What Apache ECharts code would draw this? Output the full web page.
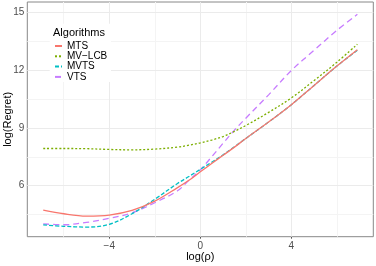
<!DOCTYPE html>
<html>
<head>
<meta charset="utf-8">
<script src="https://cdn.jsdelivr.net/npm/echarts@6/dist/echarts.min.js"></script>
<style>html,body{margin:0;padding:0;background:#fff}#c{width:376px;height:266px}</style>
</head>
<body>
<div id="c"></div>
<script>
const xs      = [-6.9, -6, -5, -4, -3, -2, -1, -0.5, 0, 0.5, 1, 1.5, 2, 3, 4, 5, 6, 6.9];
const mts     = [4.74, 4.55, 4.43, 4.48, 4.72, 5.2, 5.9, 6.28, 6.72, 7.15, 7.58, 8.0, 8.45, 9.3, 10.2, 11.2, 12.2, 13.05];
const mvlcb   = [7.93, 7.93, 7.92, 7.88, 7.86, 7.9, 8.0, 8.1, 8.22, 8.37, 8.55, 8.82, 9.12, 9.8, 10.55, 11.45, 12.4, 13.33];
const mvts    = [3.97, 3.9, 3.86, 4.0, 4.55, 5.3, 6.12, 6.48, 6.85, 7.22, 7.6, 8.02, 8.45, 9.3, 10.2, 11.2, 12.2, 13.02];
const vts     = [4.02, 3.98, 4.1, 4.31, 4.6, 5.12, 5.74, 6.28, 6.82, 7.5, 8.2, 8.88, 9.5, 10.71, 11.97, 13.02, 14.05, 14.88];
const xTicks  = [-4, 0, 4];
const xMinor  = [-6, -2, 2, 6];
const yTicks  = [6, 9, 12, 15];
const yMinor  = [4.5, 7.5, 10.5, 13.5];
const names   = ['MTS', 'MV\u2212LCB', 'MVTS', 'VTS'];
const colors  = ['#F8766D', '#7CAE00', '#00BFC4', '#C77CFF'];

const pair = arr => xs.map((x, i) => [x, arr[i]]);
const fmt = v => (v < 0 ? '\u2212' + Math.abs(v) : String(v));
const XMIN = -7.6, XMAX = 7.6, YMIN = 3.36, YMAX = 15.52;
const font = 'Liberation Sans, Arial, sans-serif';

const chart = echarts.init(document.getElementById('c'), null, {renderer: 'canvas'});
const styles = [
  {type: 'solid', w: 1.3},
  {type: [2, 2], w: 1.3},
  {type: [4, 2], w: 1.3},
  {type: [6, 4], w: 1.3}
];
const dataSets = [mts, mvlcb, mvts, vts];
const series = dataSets.map((arr, i) => ({
  name: names[i], type: 'line', data: pair(arr), smooth: 0.35, symbol: 'none',
  z: 10 - i,
  lineStyle: {color: colors[i], width: styles[i].w, type: styles[i].type},
  itemStyle: {color: colors[i]}
}));

const gl = (vals, key, color) => vals.map(v => ({[key]: v, lineStyle: {color: color, width: 1, type: 'solid'}}));
series.push({
  name: 'grid', type: 'line', data: [], symbol: 'none', silent: true, z: 1,
  markLine: {
    z: 1, zlevel: 0,
    symbol: 'none', silent: true, animation: false, label: {show: false},
    emphasis: {disabled: true},
    data: [].concat(gl(xMinor, 'xAxis', '#F4F4F4'), gl(yMinor, 'yAxis', '#F4F4F4'),
                    gl(xTicks, 'xAxis', '#EBEBEB'), gl(yTicks, 'yAxis', '#EBEBEB'))
  }
});

chart.setOption({
  animation: false,
  backgroundColor: '#fff',
  title: {text: 'Algorithms', left: 53, top: 27, padding: 0, z: 8,
          textStyle: {fontFamily: font, fontSize: 11, fontWeight: 'normal', color: '#000', lineHeight: 11}},
  legend: {
    orient: 'vertical', left: 49.7, top: 23.7, padding: [17.3, 3.7, 0, 4.3], z: 6,
    backgroundColor: '#fff',
    itemWidth: 7, itemHeight: 10, itemGap: 0.3,
    itemStyle: {opacity: 0},
    textStyle: {fontFamily: font, fontSize: 10, color: '#000', lineHeight: 10},
    data: names
  },
  grid: {left: 27.3, right: 2.7, top: 2, bottom: 29.3, outerBoundsMode: 'none', containLabel: false,
         show: true, borderColor: '#888', borderWidth: 1, backgroundColor: 'transparent'},
  xAxis: {type: 'value', min: XMIN, max: XMAX, name: 'log(\u03c1)', nameLocation: 'middle', nameGap: 15,
     nameMoveOverlap: false,
     nameTextStyle: {fontFamily: font, fontSize: 11, color: '#000'},
     axisLine: {show: false},
     axisTick: {show: true, length: 2, customValues: xTicks, lineStyle: {color: '#555'}},
     axisLabel: {customValues: xTicks, formatter: fmt, fontFamily: font, fontSize: 10, color: '#4D4D4D', margin: 5},
     splitLine: {show: false}},
  yAxis: {type: 'value', min: YMIN, max: YMAX, name: 'log(Regret)', nameLocation: 'middle', nameGap: 14,
     nameMoveOverlap: false,
     nameTextStyle: {fontFamily: font, fontSize: 11, color: '#000'},
     axisLine: {show: false},
     axisTick: {show: true, length: 2, customValues: yTicks, lineStyle: {color: '#555'}},
     axisLabel: {customValues: yTicks, fontFamily: font, fontSize: 10, color: '#4D4D4D', margin: 3},
     splitLine: {show: false}},
  series: series
});
</script>
</body>
</html>
